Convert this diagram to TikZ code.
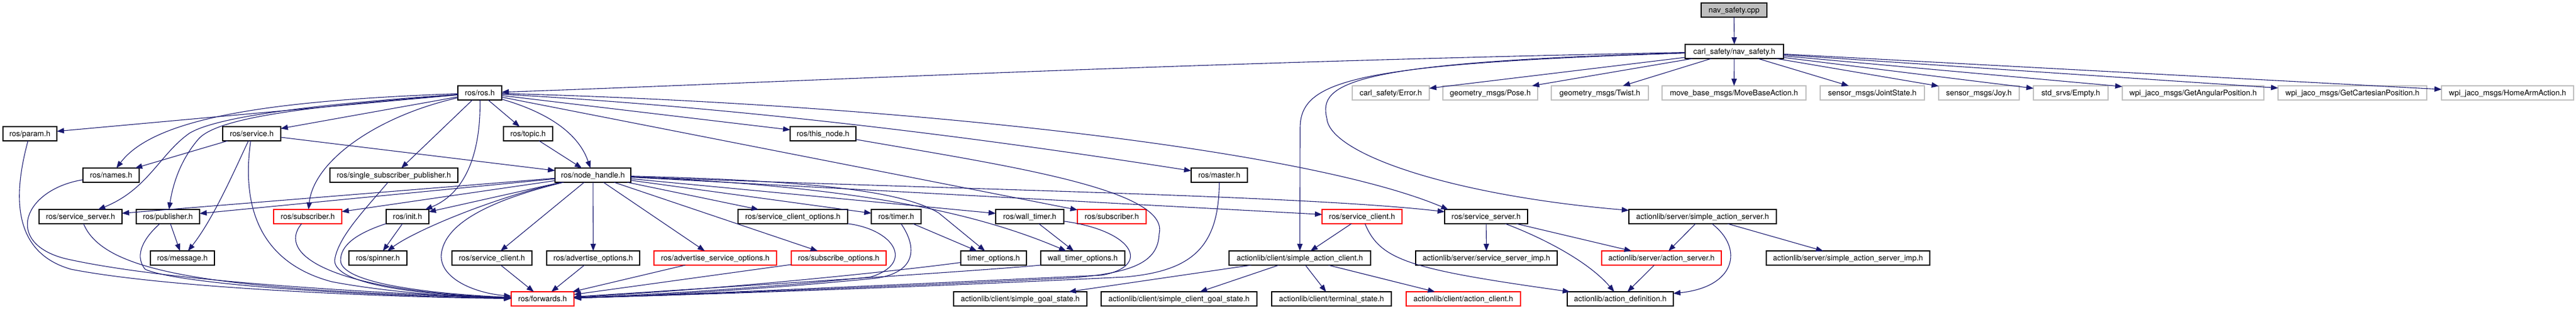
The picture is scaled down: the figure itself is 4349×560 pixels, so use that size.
\documentclass[tikz,border=0pt]{standalone}
\usepackage{fontspec}
\setmainfont{TeX Gyre Heros}
\usetikzlibrary{arrows.meta}
\definecolor{edgeblue}{RGB}{25,25,112}
\definecolor{lgray}{RGB}{191,191,191}
\tikzset{
 nd/.style={line width=1.4pt, minimum height=24pt, inner sep=0pt, outer sep=0pt, fill=white, text height=9.4pt, text depth=0pt, font=\fontsize{13}{15}\selectfont},
 bk/.style={nd, draw=black},
 gr/.style={nd, draw=lgray},
 rd/.style={nd, draw=red},
 rootbox/.style={nd, draw=black, fill=lgray},
 edge/.style={draw=edgeblue, line width=1.1pt, -{Triangle[length=12pt,width=9pt]}},
}
\begin{document}
\begin{tikzpicture}[x=1pt,y=-1pt]
\useasboundingbox (0,0) rectangle (4349,560);
% row 0-1
\node[rootbox, minimum width=111pt] (navcpp) at (2927.5,17) {nav\_safety.cpp};
\node[bk, minimum width=166pt] (navh) at (2928,87) {carl\_safety/nav\_safety.h};
% row 2
\node[bk, minimum width=74pt] (ros) at (810,157) {ros/ros.h};
\node[gr, minimum width=130pt] (err) at (2348,157) {carl\_safety/Error.h};
\node[gr, minimum width=160pt] (pose) at (2516,157) {geometry\_msgs/Pose.h};
\node[gr, minimum width=164pt] (twist) at (2701,157) {geometry\_msgs/Twist.h};
\node[gr, minimum width=243pt] (mba) at (2927.5,157) {move\_base\_msgs/MoveBaseAction.h};
\node[gr, minimum width=176pt] (js) at (3161,157) {sensor\_msgs/JointState.h};
\node[gr, minimum width=136pt] (joy) at (3341,157) {sensor\_msgs/Joy.h};
\node[gr, minimum width=126pt] (empty) at (3496,157) {std\_srvs/Empty.h};
\node[gr, minimum width=239pt] (gap) at (3702.5,157) {wpi\_jaco\_msgs/GetAngularPosition.h};
\node[gr, minimum width=251pt] (gcp) at (3971.5,157) {wpi\_jaco\_msgs/GetCartesianPosition.h};
\node[gr, minimum width=223pt] (ham) at (4233.5,157) {wpi\_jaco\_msgs/HomeArmAction.h};
% row 3
\node[bk, minimum width=91pt] (param) at (50.5,226) {ros/param.h};
\node[bk, minimum width=98pt] (service) at (425,226) {ros/service.h};
\node[bk, minimum width=83pt] (topic) at (891.5,226) {ros/topic.h};
\node[bk, minimum width=111pt] (thisnode) at (1389.5,226) {ros/this\_node.h};
% row 4
\node[bk, minimum width=95pt] (names) at (187.5,296) {ros/names.h};
\node[bk, minimum width=216pt] (ssp) at (665,296) {ros/single\_subscriber\_publisher.h};
\node[bk, minimum width=128pt] (nh) at (1001,296) {ros/node\_handle.h};
\node[bk, minimum width=95pt] (master) at (2058.5,296) {ros/master.h};
% row 5
\node[bk, minimum width=140pt] (ssl) at (136,366) {ros/service\_server.h};
\node[bk, minimum width=107pt] (pub) at (283.5,366) {ros/publisher.h};
\node[rd, minimum width=115pt] (subl) at (519.5,366) {ros/subscriber.h};
\node[bk, minimum width=72pt] (init) at (688,366) {ros/init.h};
\node[bk, minimum width=185pt] (sco) at (1338.5,366) {ros/service\_client\_options.h};
\node[bk, minimum width=84pt] (timer) at (1513,366) {ros/timer.h};
\node[bk, minimum width=115pt] (wtimer) at (1738.5,366) {ros/wall\_timer.h};
\node[rd, minimum width=116pt] (subr) at (1877,366) {ros/subscriber.h};
\node[rd, minimum width=135pt] (scr) at (2299.5,366) {ros/service\_client.h};
\node[bk, minimum width=140pt] (ssr) at (2509,366) {ros/service\_server.h};
\node[bk, minimum width=249pt] (sas) at (2874.5,366) {actionlib/server/simple\_action\_server.h};
% row 6
\node[bk, minimum width=108pt] (msg) at (308,436) {ros/message.h};
\node[bk, minimum width=98pt] (spin) at (638,436) {ros/spinner.h};
\node[bk, minimum width=135pt] (scb) at (830.5,436) {ros/service\_client.h};
\node[bk, minimum width=157pt] (ao) at (1001.5,436) {ros/advertise\_options.h};
\node[rd, minimum width=207pt] (aso) at (1207.5,436) {ros/advertise\_service\_options.h};
\node[rd, minimum width=160pt] (so) at (1416,436) {ros/subscribe\_options.h};
\node[bk, minimum width=111pt] (to) at (1677.5,436) {timer\_options.h};
\node[bk, minimum width=142pt] (wto) at (1828,436) {wall\_timer\_options.h};
\node[bk, minimum width=239pt] (sac) at (2194.5,436) {actionlib/client/simple\_action\_client.h};
\node[bk, minimum width=239pt] (ssi) at (2509.5,436) {actionlib/server/service\_server\_imp.h};
\node[rd, minimum width=202pt] (asrv) at (2805,436) {actionlib/server/action\_server.h};
\node[bk, minimum width=276pt] (sasi) at (3120,436) {actionlib/server/simple\_action\_server\_imp.h};
% row 7
\node[rd, minimum width=106pt] (fwd) at (916,505) {ros/forwards.h};
\node[bk, minimum width=225pt] (sgs) at (1722.5,505) {actionlib/client/simple\_goal\_state.h};
\node[bk, minimum width=263pt] (scgs) at (1990.5,505) {actionlib/client/simple\_client\_goal\_state.h};
\node[bk, minimum width=202pt] (ts) at (2248,505) {actionlib/client/terminal\_state.h};
\node[rd, minimum width=193pt] (ac) at (2470.5,505) {actionlib/client/action\_client.h};
\node[bk, minimum width=179pt] (ad) at (2735.5,505) {actionlib/action\_definition.h};

% ---- edges from nav_safety
\draw[edge] (navcpp) -- (navh);
\draw[edge] (navh) .. controls (2000,105) and (1300,140) .. (ros);
\draw[edge] (navh) -- (err);
\draw[edge] (navh) -- (pose);
\draw[edge] (navh) -- (twist);
\draw[edge] (navh) -- (mba);
\draw[edge] (navh) -- (js);
\draw[edge] (navh) -- (joy);
\draw[edge] (navh) -- (empty);
\draw[edge] (navh) -- (gap);
\draw[edge] (navh) -- (gcp);
\draw[edge] (navh) -- (ham);
\draw[edge] (navh) .. controls (2290,108) and (2196,135) .. (2195,215) -- (sac);
\draw[edge] (navh) .. controls (2280,105) and (2225,140) .. (2240,200) .. controls (2245,260) and (2450,330) .. (sas);
% ---- ros.h
\draw[edge] (ros) -- (param);
\draw[edge] (ros) .. controls (450,170) and (260,200) .. (names);
\draw[edge] (ros) .. controls (550,175) and (370,195) .. (320,225) .. controls (270,260) and (250,320) .. (ssl);
\draw[edge] (ros) .. controls (550,178) and (370,195) .. (335,235) .. controls (305,270) and (292,310) .. (pub);
\draw[edge] (ros) -- (service);
\draw[edge] (ros) .. controls (640,195) and (530,270) .. (subl);
\draw[edge] (ros) -- (ssp);
\draw[edge] (ros) .. controls (812,250) and (790,325) .. (init);
\draw[edge] (ros) -- (topic);
\draw[edge] (ros) .. controls (960,200) and (985,250) .. (nh);
\draw[edge] (ros) -- (thisnode);
\draw[edge] (ros) -- (subr);
\draw[edge] (ros) .. controls (1300,185) and (1700,240) .. (master);
\draw[edge] (ros) .. controls (1500,175) and (2200,250) .. ([xshift=6pt]ssr.north west);
% ---- topic, this_node, master
\draw[edge] (topic) -- (nh);
\draw[edge] (thisnode) .. controls (1700,280) and (1975,320) .. (1957,395) .. controls (1955,440) and (1920,462) .. (1800,470) .. controls (1500,485) and (1100,500) .. (fwd);
\draw[edge] (master) .. controls (2058,420) and (2010,458) .. (1900,468) .. controls (1500,488) and (1100,500) .. (fwd);
% ---- service.h
\draw[edge] (service) -- (names);
\draw[edge] (service) .. controls (395,290) and (360,370) .. (msg);
\draw[edge] (service) -- (nh);
\draw[edge] (service) .. controls (410,330) and (425,440) .. (560,476) .. controls (660,495) and (780,502) .. (fwd);
% ---- left column to forwards
\draw[edge] (names) .. controls (40,320) and (5,410) .. (110,437) .. controls (300,480) and (700,498) .. (fwd);
\draw[edge] (param) .. controls (25,320) and (15,425) .. (120,455) .. controls (300,490) and (700,503) .. (fwd);
\draw[edge] (ssl) .. controls (175,460) and (350,490) .. (fwd);
\draw[edge] (pub) .. controls (245,400) and (225,430) .. (245,455) .. controls (300,480) and (600,500) .. (fwd);
\draw[edge] (pub) -- (msg);
\draw[edge] (subl) .. controls (465,430) and (560,492) .. (fwd);
\draw[edge] (ssp) .. controls (620,350) and (570,400) .. (565,440) .. controls (565,480) and (700,498) .. (fwd);
\draw[edge] (init) .. controls (600,395) and (575,415) .. (575,440) .. controls (575,475) and (700,495) .. (fwd);
\draw[edge] (init) -- (spin);
% ---- node_handle.h
\draw[edge] (nh) -- (ssl);
\draw[edge] (nh) -- (pub);
\draw[edge] (nh) -- (subl);
\draw[edge] (nh) -- (init);
\draw[edge] (nh) .. controls (830,335) and (700,390) .. (spin);
\draw[edge] (nh) .. controls (820,340) and (750,380) .. (745,430) .. controls (742,470) and (800,495) .. (fwd);
\draw[edge] (nh) -- (scb);
\draw[edge] (nh) -- (ao);
\draw[edge] (nh) -- (aso);
\draw[edge] (nh) -- (sco);
\draw[edge] (nh) -- (so);
\draw[edge] (nh) -- (timer);
\draw[edge] (nh) -- (wtimer);
\draw[edge] (nh) .. controls (1350,305) and (1520,320) .. (1585,360) -- (to);
\draw[edge] (nh) .. controls (1450,315) and (1650,360) .. (wto);
\draw[edge] (nh) -- (scr);
\draw[edge] (nh) .. controls (1600,320) and (2200,330) .. (ssr);
% ---- row 5/6 to forwards
\draw[edge] (scb) -- (fwd);
\draw[edge] (ao) -- (fwd);
\draw[edge] (aso) -- (fwd);
\draw[edge] (so) -- (fwd);
\draw[edge] (to) .. controls (1500,460) and (1200,490) .. (fwd);
\draw[edge] (wto.south west) .. controls (1650,458) and (1300,480) .. (fwd);
\draw[edge] (sco) .. controls (1510,388) and (1545,445) .. (1470,468) .. controls (1300,486) and (1100,498) .. (fwd);
\draw[edge] (timer) .. controls (1550,420) and (1545,460) .. (1480,470) .. controls (1300,488) and (1100,500) .. (fwd);
\draw[edge] (timer) -- (to);
\draw[edge] (wtimer) -- (wto);
\draw[edge] (wtimer) .. controls (1915,390) and (1945,450) .. (1860,465) .. controls (1500,482) and (1100,500) .. (fwd);
% ---- actionlib
\draw[edge] (scr) -- (sac);
\draw[edge] (scr) .. controls (2330,440) and (2380,455) .. (ad);
\draw[edge] (ssr) -- (ssi);
\draw[edge] (ssr) -- (asrv);
\draw[edge] (ssr) .. controls (2600,400) and (2680,440) .. (ad);
\draw[edge] (sas) -- (asrv);
\draw[edge] (sas) .. controls (2945,420) and (2930,485) .. (ad);
\draw[edge] (sas) -- (sasi);
\draw[edge] (asrv) -- (ad);
\draw[edge] (sac) -- (sgs);
\draw[edge] (sac) -- (scgs);
\draw[edge] (sac) -- (ts);
\draw[edge] (sac) -- (ac);
\end{tikzpicture}
\end{document}
